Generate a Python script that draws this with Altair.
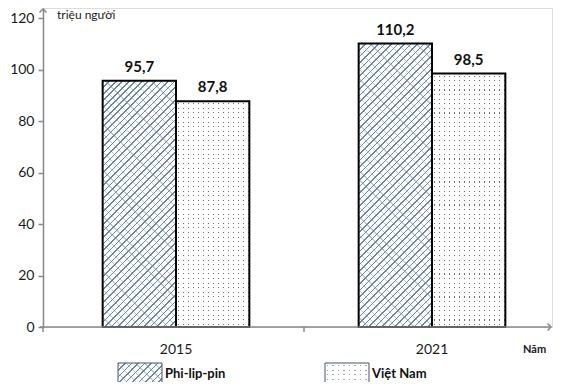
import altair as alt
import pandas as pd

years = ["2015", "2021"]
series = ["Phi-lip-pin", "Việt Nam"]
phi_values = [95.7, 110.2]
vn_values = [87.8, 98.5]
phi_labels = ["95,7", "110,2"]
vn_labels = ["87,8", "98,5"]
y_ticks = [0, 20, 40, 60, 80, 100, 120]
y_title = "triệu người"
x_title = "Năm"

FONT = "Lato"
W, H, YMAX = 509, 319, 124
PPU = H / YMAX
X_RANGE = [5, 517]
P_IN = 0.427
BAR_W = (X_RANGE[1] - X_RANGE[0]) / 2 * (1 - P_IN) / 2
AXIS_GRAY = "#878787"
HATCH = "#6a85a3"
HATCH2 = "rgba(106,133,163,0.45)"
DOT = "#6e6e6e"
CLEAR = "rgba(255,255,255,0)"

rows = []
for i, yr in enumerate(years):
    rows.append({"year": yr, "series": series[0], "value": phi_values[i], "label": phi_labels[i]})
    rows.append({"year": yr, "series": series[1], "value": vn_values[i], "label": vn_labels[i]})
df = pd.DataFrame(rows)
one = pd.DataFrame({"k": [0]})


def stops_from(pairs):
    return [{"offset": round(min(max(o, 0), 1), 5), "color": c} for o, c in pairs]


def hatch_gradient(w, h, period=4.6, line=1.1, color=HATCH, bg="#ffffff", flip=False):
    k = w / h
    s = (w + h) / (h * (k * k + 1))
    L = w + h
    dt = period * 2 ** 0.5 / L
    lt = line * 2 ** 0.5 / L
    pairs = []
    t = 0.0
    while t < 1:
        pairs += [(t, color), (t + lt, color), (t + lt, bg), (t + dt, bg)]
        t += dt
    if flip:
        return {"gradient": "linear", "x1": 0, "y1": 1, "x2": s * k, "y2": 1 - s, "stops": stops_from(pairs)}
    return {"gradient": "linear", "x1": 0, "y1": 0, "x2": s * k, "y2": s, "stops": stops_from(pairs)}


def stripe_gradient(length, vertical, spacing=5.0, dot=1.1):
    dt = spacing / length
    gt = dot / length
    pairs = []
    t = 2.0 / length
    pairs.append((0, "#ffffff"))
    while t < 1:
        pairs += [(t, "#ffffff"), (t, CLEAR), (t + gt, CLEAR), (t + gt, "#ffffff")]
        t += dt
    pairs.append((1, "#ffffff"))
    if vertical:
        return {"gradient": "linear", "x1": 0, "y1": 0, "x2": 1, "y2": 0, "stops": stops_from(pairs)}
    return {"gradient": "linear", "x1": 0, "y1": 0, "x2": 0, "y2": 1, "stops": stops_from(pairs)}


x_enc = alt.X("year:N",
              scale=alt.Scale(domain=years, range=X_RANGE, paddingInner=P_IN, paddingOuter=P_IN / 2),
              axis=alt.Axis(title=None, domain=False, ticks=False, labelAngle=0, labelPadding=15,
                            labelFontSize=14, labelFont=FONT, labelColor="#1a1a1a"))
xo_enc = alt.XOffset("series:N", scale=alt.Scale(domain=series, paddingInner=0, paddingOuter=0))
y_enc = alt.Y("value:Q", scale=alt.Scale(domain=[0, YMAX], nice=False),
              axis=alt.Axis(title=None, values=y_ticks, grid=False, domainColor=AXIS_GRAY,
                            domainWidth=1.5, tickColor=AXIS_GRAY, tickSize=5, tickWidth=1.5,
                            labelPadding=4, labelFontSize=14, labelFont=FONT, labelColor="#1a1a1a"))

base = alt.Chart(df)
layers = []
for i, yr in enumerate(years):
    for j, s in enumerate(series):
        val = phi_values[i] if j == 0 else vn_values[i]
        h = val * PPU
        sel = base.transform_filter((alt.datum.year == yr) & (alt.datum.series == s))
        if j == 0:
            layers.append(sel.mark_bar(fill=hatch_gradient(BAR_W, h), strokeWidth=0)
                          .encode(x=x_enc, xOffset=xo_enc, y=y_enc))
            layers.append(sel.mark_bar(fill=hatch_gradient(BAR_W, h, period=6.5, line=0.9, color=HATCH2,
                                                           bg=CLEAR, flip=True), strokeWidth=0)
                          .encode(x=x_enc, xOffset=xo_enc, y=y_enc))
        else:
            layers.append(sel.mark_bar(fill=DOT, strokeWidth=0)
                          .encode(x=x_enc, xOffset=xo_enc, y=y_enc))
            layers.append(sel.mark_bar(fill=stripe_gradient(BAR_W, True, spacing=5.0), strokeWidth=0)
                          .encode(x=x_enc, xOffset=xo_enc, y=y_enc))
            layers.append(sel.mark_bar(fill=stripe_gradient(h, False, spacing=4.6), strokeWidth=0)
                          .encode(x=x_enc, xOffset=xo_enc, y=y_enc))

outline = base.mark_bar(fillOpacity=0, fill="white", stroke="black", strokeWidth=2).encode(
    x=x_enc, xOffset=xo_enc, y=y_enc)
labels = base.mark_text(baseline="bottom", dy=-6, fontSize=15, fontWeight="bold", font=FONT,
                        color="#111111").encode(x=x_enc, xOffset=xo_enc, y=y_enc, text="label:N")

oc = alt.Chart(one)
x_line = oc.mark_rule(color=AXIS_GRAY, strokeWidth=1.5).encode(
    x=alt.value(-3), x2=alt.value(543 - 35), y=alt.value(H))
x_tick0 = oc.mark_rule(color=AXIS_GRAY, strokeWidth=1.5).encode(
    x=alt.value(0), y=alt.value(H), y2=alt.value(H + 5))
x_tick1 = oc.mark_rule(color=AXIS_GRAY, strokeWidth=1.5).encode(
    x=alt.value(261), y=alt.value(H), y2=alt.value(H + 5))
x_arrow = oc.mark_point(shape="M-1,-1L0,0L-1,1", size=49, filled=False, color=AXIS_GRAY,
                        strokeWidth=1.5, opacity=1).encode(x=alt.value(543 - 35), y=alt.value(H))
y_arrow = oc.mark_point(shape="M-1,1L0,0L1,1", size=49, filled=False, color=AXIS_GRAY,
                        strokeWidth=1.5, opacity=1).encode(x=alt.value(0), y=alt.value(1))

t_y = oc.mark_text(text=y_title, align="left", baseline="middle", fontSize=12, font=FONT,
                   color="#1a1a1a").encode(x=alt.value(14), y=alt.value(7))
t_x = oc.mark_text(text=x_title, align="left", baseline="middle", fontSize=11, fontWeight="bold",
                   font=FONT, color="#1a1a1a").encode(x=alt.value(480), y=alt.value(342))

LW, LH = 44, 20
leg_y0, leg_y1 = 355, 355 + LH
leg_x = [75, 282]
leg_layers = []
leg_layers.append(oc.mark_rect(fill=hatch_gradient(LW, LH)).encode(
    x=alt.value(leg_x[0]), x2=alt.value(leg_x[0] + LW), y=alt.value(leg_y0), y2=alt.value(leg_y1)))
leg_layers.append(oc.mark_rect(fill=hatch_gradient(LW, LH, period=6.5, line=0.9, color=HATCH2,
                                                   bg=CLEAR, flip=True)).encode(
    x=alt.value(leg_x[0]), x2=alt.value(leg_x[0] + LW), y=alt.value(leg_y0), y2=alt.value(leg_y1)))
leg_layers.append(oc.mark_rect(fill="#a5a5a5").encode(
    x=alt.value(leg_x[1]), x2=alt.value(leg_x[1] + LW), y=alt.value(leg_y0), y2=alt.value(leg_y1)))
leg_layers.append(oc.mark_rect(fill=stripe_gradient(LW, True, spacing=5.5)).encode(
    x=alt.value(leg_x[1]), x2=alt.value(leg_x[1] + LW), y=alt.value(leg_y0), y2=alt.value(leg_y1)))
leg_layers.append(oc.mark_rect(fill=stripe_gradient(LH, False, spacing=4.6)).encode(
    x=alt.value(leg_x[1]), x2=alt.value(leg_x[1] + LW), y=alt.value(leg_y0), y2=alt.value(leg_y1)))
for lx in leg_x:
    leg_layers.append(oc.mark_rect(fillOpacity=0, fill="white", stroke="#44546a", strokeWidth=1).encode(
        x=alt.value(lx), x2=alt.value(lx + LW), y=alt.value(leg_y0), y2=alt.value(leg_y1)))
for lx, name in zip(leg_x, series):
    leg_layers.append(oc.mark_text(text=name, align="left", baseline="middle", fontSize=13,
                                   fontWeight="bold", font=FONT, color="#111111").encode(
        x=alt.value(lx + LW + 3), y=alt.value((leg_y0 + leg_y1) / 2 + 1)))

chart = alt.layer(*layers, outline, labels, x_line, x_tick0, x_tick1, x_arrow, y_arrow, t_y, t_x,
                  *leg_layers).properties(
    width=W, height=H,
    autosize=alt.AutoSizeParams(type="none"),
    padding={"left": 35, "top": 0, "right": 2, "bottom": 55},
).configure_view(stroke=None).configure(background="white")

chart.save("out.html", embed_options={"renderer": "svg", "actions": False})
